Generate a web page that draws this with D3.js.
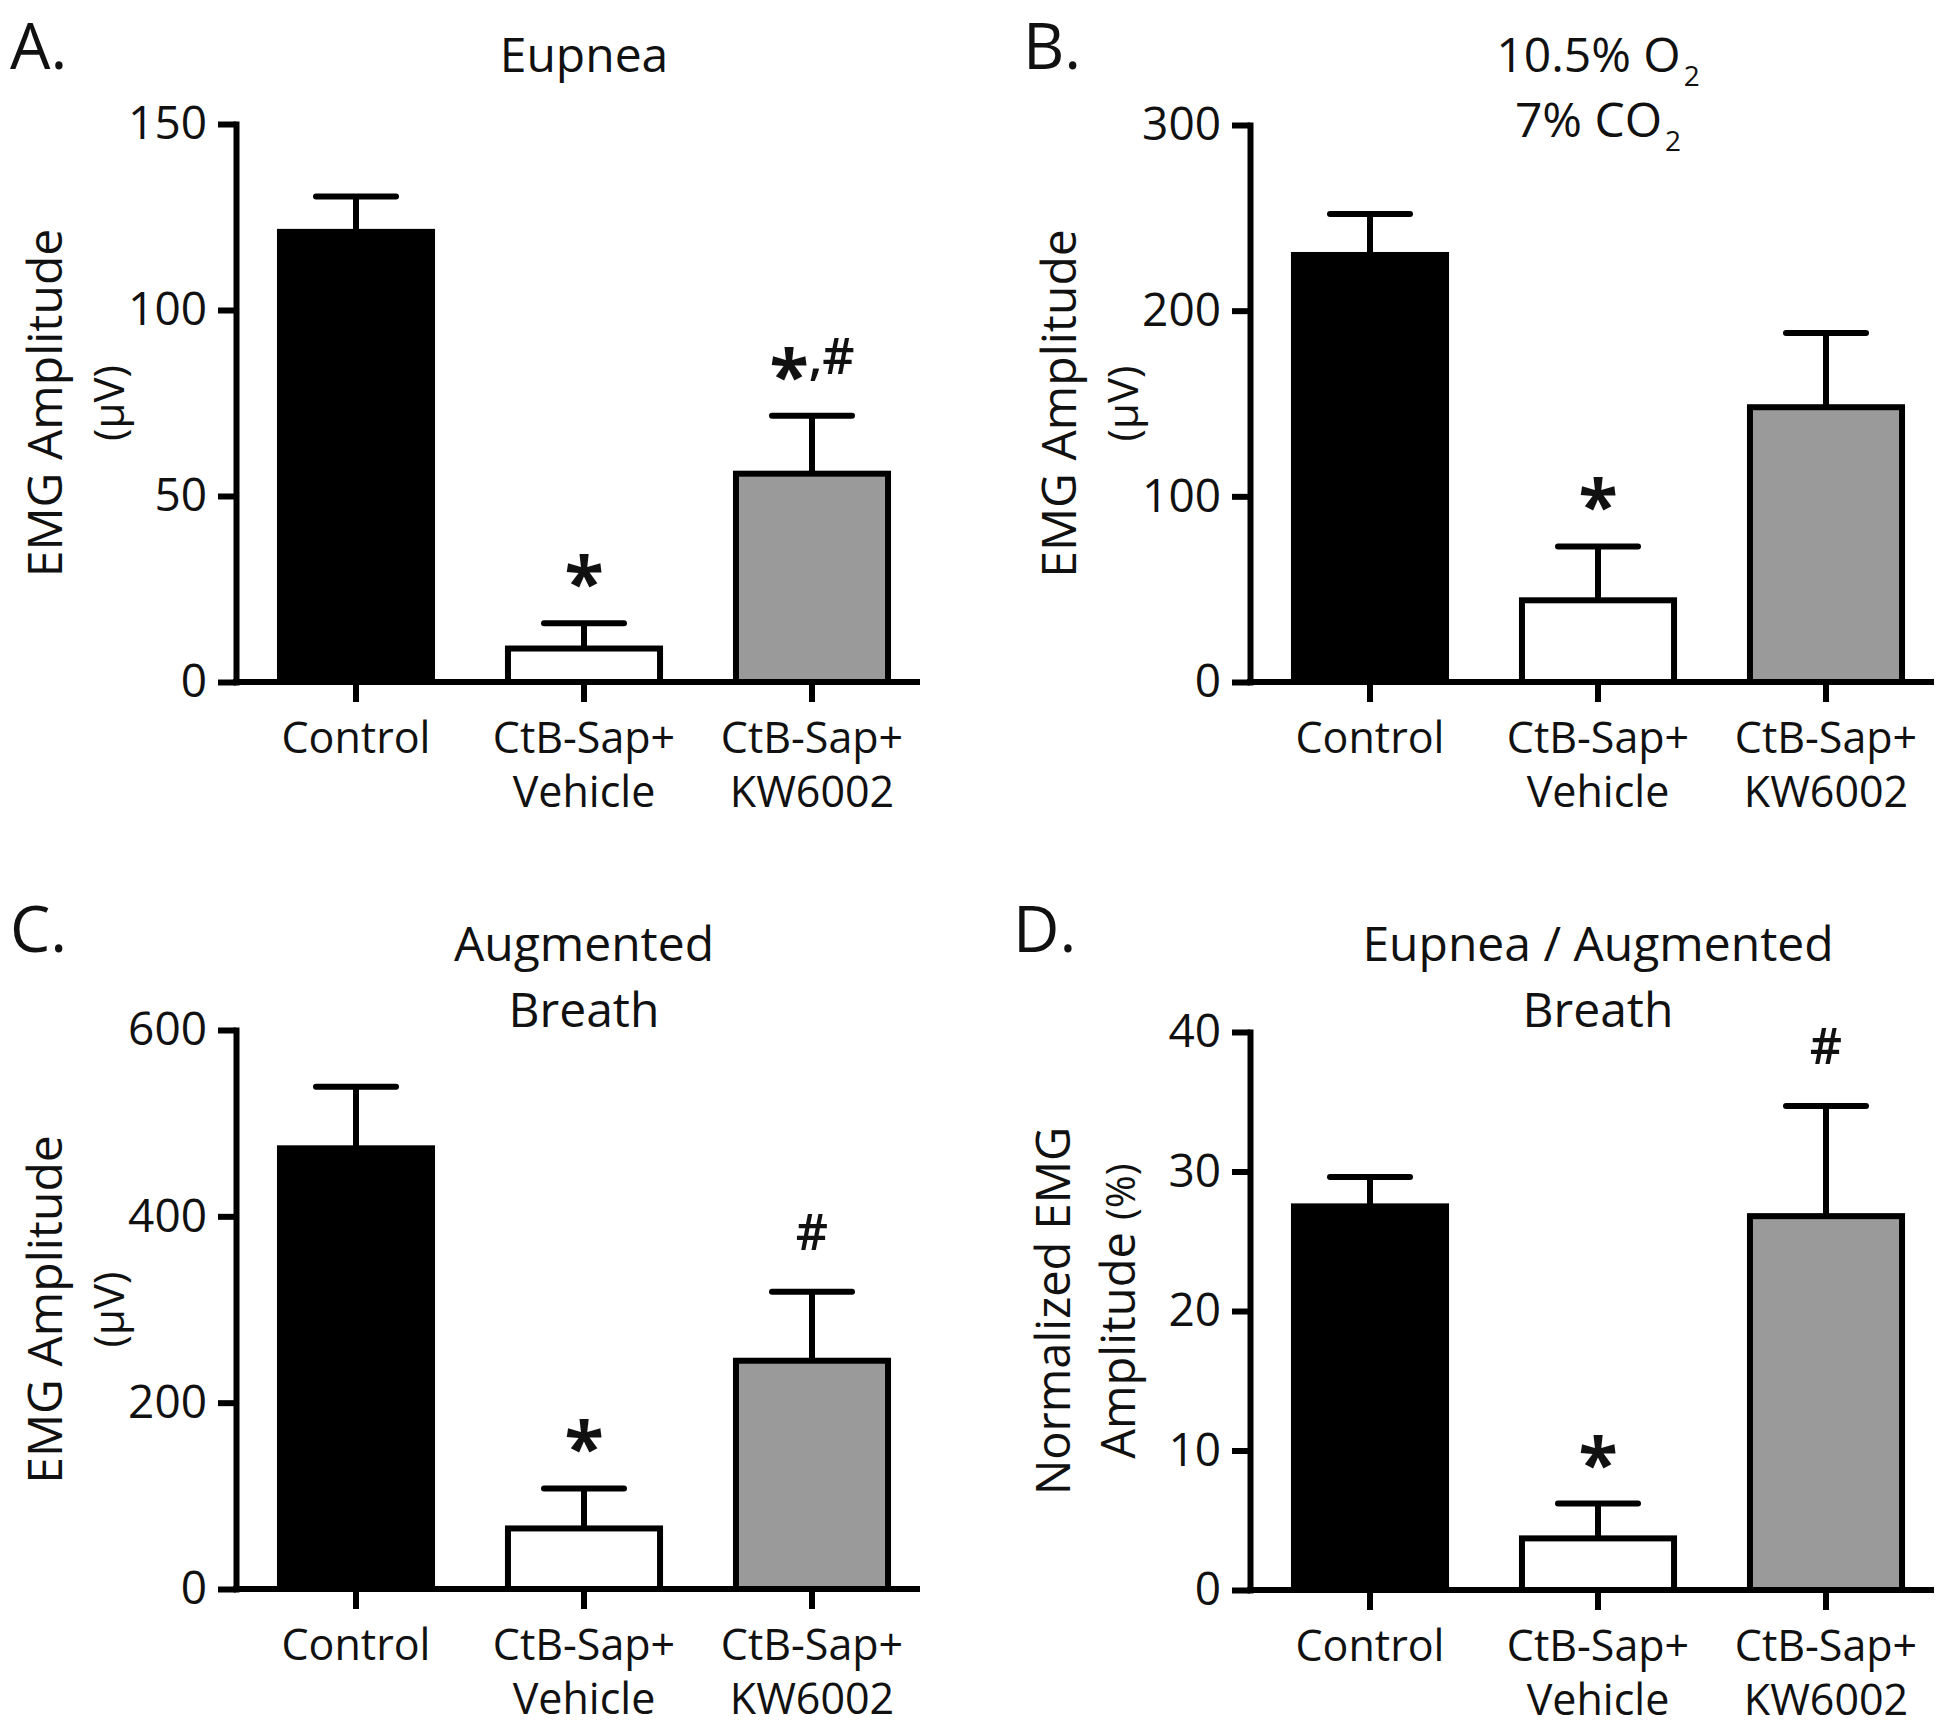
<!DOCTYPE html>
<meta charset="utf-8">
<style>
body { margin: 0; background: #fff; }
svg text { font-family: "Open Sans", sans-serif; fill: #111; }
</style>
<body>
<div id="chart"></div>
<script src="https://cdn.jsdelivr.net/npm/d3@7"></script>
<script>

// categories (one entry per line of the label)
var categories = [["Control"], ["CtB-Sap+", "Vehicle"], ["CtB-Sap+", "KW6002"]];
var barFills = ["#000", "#fff", "#9a9a9a"];

// A. Eupnea
var eupneaMean = [121, 9, 56];
var eupneaSem = [9.5, 6.8, 15.6];
var eupneaTicks = [0, 50, 100, 150];
var eupneaMarks = ["", "*", "*,#"];

// B. 10.5% O2 / 7% CO2
var gasMean = [230, 44, 148];
var gasSem = [22, 29, 40];
var gasTicks = [0, 100, 200, 300];
var gasMarks = ["", "*", ""];

// C. Augmented breath
var augMean = [473, 65, 245];
var augSem = [66, 43, 74];
var augTicks = [0, 200, 400, 600];
var augMarks = ["", "*", "#"];

// D. Eupnea / augmented breath
var ratioMean = [27.5, 3.7, 26.8];
var ratioSem = [2.1, 2.5, 7.9];
var ratioTicks = [0, 10, 20, 30, 40];
var ratioMarks = ["", "*", "#"];

var width = 1950;
var height = 1728;

var svg = d3.select("#chart")
            .append("svg")
            .attr("width", width)
            .attr("height", height);

var panels = [
  { letter: "A.", lx: 10, ly: 69, left: 236, top: 124, bottom: 682,
    title: ["Eupnea"], ty: [72],
    ylab: [["EMG Amplitude", 48, 174], ["(μV)", 42, 112]],
    mean: eupneaMean, sem: eupneaSem, ticks: eupneaTicks, marks: eupneaMarks },
  { letter: "B.", lx: 1023, ly: 69, left: 1250, top: 125, bottom: 682,
    title: ["10.5% O_2", "7% CO_2"], ty: [72, 137],
    ylab: [["EMG Amplitude", 48, 174], ["(μV)", 42, 112]],
    mean: gasMean, sem: gasSem, ticks: gasTicks, marks: gasMarks },
  { letter: "C.", lx: 10, ly: 952, left: 236, top: 1030, bottom: 1589,
    title: ["Augmented", "Breath"], ty: [961, 1027],
    ylab: [["EMG Amplitude", 48, 174], ["(μV)", 42, 112]],
    mean: augMean, sem: augSem, ticks: augTicks, marks: augMarks },
  { letter: "D.", lx: 1013, ly: 952, left: 1250, top: 1032, bottom: 1590,
    title: ["Eupnea / Augmented", "Breath"], ty: [961, 1027],
    ylab: [["Normalized EMG", 47, 180], ["Amplitude |(%)", 47, 115]],
    mean: ratioMean, sem: ratioSem, ticks: ratioTicks, marks: ratioMarks }
];

panels.forEach(drawPanel);

function drawPanel(p) {
  var g = svg.append("g");
  var y = d3.scaleLinear()
            .domain([0, p.ticks[p.ticks.length - 1]])
            .range([p.bottom, p.top]);
  var x = d3.scaleBand()
            .domain(d3.range(p.mean.length))
            .range([p.left + 6, p.left + 690])
            .paddingInner(0.333)
            .paddingOuter(0.1665);
  var cx = function(i) { return x(i) + x.bandwidth() / 2; };

  // error bars (drawn first, the bar outline covers the base)
  var err = g.append("g").attr("stroke", "#000").attr("stroke-width", 6);
  err.selectAll("line.v")
     .data(p.mean)
     .join("line")
     .attr("class", "v")
     .attr("x1", function(d, i) { return cx(i); })
     .attr("x2", function(d, i) { return cx(i); })
     .attr("y1", function(d) { return y(d); })
     .attr("y2", function(d, i) { return y(d + p.sem[i]); });
  err.selectAll("line.cap")
     .data(p.mean)
     .join("line")
     .attr("class", "cap")
     .attr("stroke-linecap", "round")
     .attr("x1", function(d, i) { return cx(i) - 40; })
     .attr("x2", function(d, i) { return cx(i) + 40; })
     .attr("y1", function(d, i) { return y(d + p.sem[i]); })
     .attr("y2", function(d, i) { return y(d + p.sem[i]); });

  // bars
  g.selectAll("rect")
   .data(p.mean)
   .join("rect")
   .attr("x", function(d, i) { return x(i); })
   .attr("y", function(d) { return y(d); })
   .attr("width", x.bandwidth())
   .attr("height", function(d) { return y(0) - y(d); })
   .attr("fill", function(d, i) { return barFills[i]; })
   .attr("stroke", "#000")
   .attr("stroke-width", 6);

  // y axis
  var ya = g.append("g")
            .attr("transform", "translate(" + p.left + ",0)")
            .call(d3.axisLeft(y).tickValues(p.ticks).tickSize(18).tickSizeOuter(0).tickPadding(11));
  ya.attr("font-size", 46).attr("font-family", null);
  ya.select(".domain").attr("stroke-width", 6).attr("stroke-linecap", "square");
  ya.selectAll(".tick line").attr("stroke-width", 6);

  // x axis
  g.append("line")
   .attr("x1", p.left - 3).attr("x2", p.left + 684)
   .attr("y1", y(0)).attr("y2", y(0))
   .attr("stroke", "#000").attr("stroke-width", 6);
  g.selectAll("line.xt")
   .data(p.mean)
   .join("line")
   .attr("class", "xt")
   .attr("x1", function(d, i) { return cx(i); })
   .attr("x2", function(d, i) { return cx(i); })
   .attr("y1", y(0))
   .attr("y2", y(0) + 20)
   .attr("stroke", "#000").attr("stroke-width", 6);

  // category labels
  var xl = g.selectAll("text.xl")
            .data(categories)
            .join("text")
            .attr("class", "xl")
            .attr("text-anchor", "middle")
            .attr("font-size", 43);
  xl.selectAll("tspan")
    .data(function(d, i) { return d.map(function(s) { return { s: s, i: i }; }); })
    .join("tspan")
    .attr("x", function(d) { return cx(d.i); })
    .attr("y", function(d, j) { return p.bottom + 71 + j * 54; })
    .text(function(d) { return d.s; });

  // significance marks
  var mk = g.selectAll("text.mark")
            .data(p.marks)
            .join("text")
            .attr("class", "mark")
            .attr("text-anchor", "middle")
            .attr("font-size", 50)
            .attr("font-weight", 600)
            .attr("x", function(d, i) { return cx(i); })
            .attr("y", function(d, i) { return y(p.mean[i] + p.sem[i]) - 42; });
  mk.each(function(d) {
    var t = d3.select(this);
    var shifted = false;
    d.split("").forEach(function(c) {
      var s = t.append("tspan").text(c);
      if (c == "*") {
        s.attr("font-size", 72).attr("font-weight", 700);
        if (!shifted) { s.attr("dy", 28); shifted = true; }
      } else if (shifted) {
        s.attr("dy", -28);
        shifted = false;
      }
    });
  });

  // title
  var cMid = cx(1);
  p.title.forEach(function(line, k) {
    var t = g.append("text")
             .attr("x", cMid)
             .attr("y", p.ty[k])
             .attr("text-anchor", "middle")
             .attr("font-size", 48);
    var parts = line.split("_");
    t.append("tspan").text(parts[0]);
    if (parts.length > 1) {
      t.append("tspan").attr("font-size", 28).attr("dx", 3).attr("dy", 14).text(parts[1]);
    }
  });

  // y label
  var midY = (p.top + p.bottom) / 2;
  p.ylab.forEach(function(l) {
    var t = g.append("text")
             .attr("transform", "translate(" + (p.left - l[2]) + "," + midY + ") rotate(-90)")
             .attr("text-anchor", "middle")
             .attr("font-size", l[1]);
    var parts = l[0].split("|");
    t.append("tspan").text(parts[0]);
    if (parts.length > 1) {
      t.append("tspan").attr("font-size", 40).text(parts[1]);
    }
  });

  // panel letter
  g.append("text")
   .attr("x", p.lx)
   .attr("y", p.ly)
   .attr("font-size", 64)
   .text(p.letter);
}

</script>
